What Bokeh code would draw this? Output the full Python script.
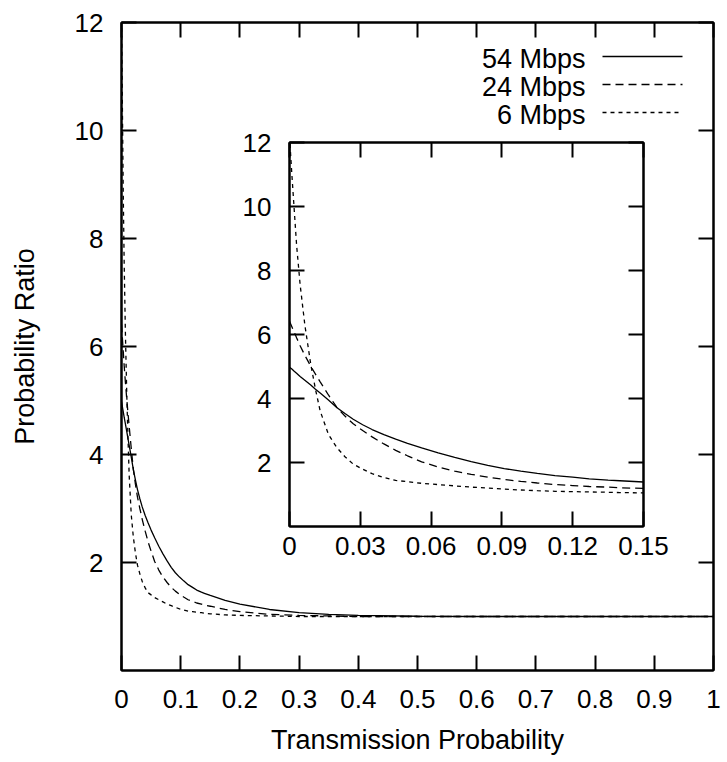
from bokeh.plotting import figure
from bokeh.models import (FixedTicker, LinearAxis, Range1d, Label, Arrow,
                          GridBox, CustomJSTickFormatter)
from bokeh.embed import file_html
from bokeh.resources import INLINE

# ---------------- data ----------------
transmission_probability = [0, 0.001, 0.002, 0.003, 0.0045, 0.0065, 0.009, 0.011,
                            0.013, 0.0165, 0.02, 0.0235, 0.027, 0.031, 0.035, 0.04,
                            0.045, 0.05, 0.056, 0.063, 0.07, 0.077, 0.084, 0.091,
                            0.098, 0.105, 0.1125, 0.12, 0.127, 0.135, 0.14, 0.15,
                            0.175, 0.2, 0.25, 0.3, 0.35, 0.4, 0.5, 0.6, 0.7, 0.8,
                            0.9, 1.0]
ratio_54mbps = [4.98, 4.92, 4.85, 4.79, 4.69, 4.57, 4.42, 4.29,
                4.17, 3.95, 3.72, 3.53, 3.35, 3.18, 3.03, 2.87,
                2.73, 2.60, 2.46, 2.30, 2.16, 2.03, 1.91, 1.81,
                1.73, 1.66, 1.59, 1.54, 1.49, 1.45, 1.43, 1.39,
                1.30, 1.23, 1.13, 1.07, 1.04, 1.02, 1.005, 1.0, 1.0, 1.0,
                1.0, 1.0]
ratio_24mbps = [6.41, 6.24, 6.07, 5.90, 5.65, 5.35, 5.01, 4.76,
                4.52, 4.11, 3.73, 3.45, 3.21, 3.00, 2.80, 2.58,
                2.38, 2.21, 2.02, 1.86, 1.73, 1.63, 1.54, 1.47,
                1.41, 1.36, 1.31, 1.28, 1.25, 1.23, 1.21, 1.19,
                1.13, 1.09, 1.04, 1.02, 1.01, 1.0, 1.0, 1.0, 1.0, 1.0,
                1.0, 1.0]
ratio_6mbps = [12.2, 11.0, 9.9, 8.8, 7.56, 6.3, 5.07, 4.29,
               3.61, 2.88, 2.47, 2.18, 1.95, 1.79, 1.65, 1.53,
               1.44, 1.40, 1.35, 1.31, 1.27, 1.23, 1.20, 1.17,
               1.14, 1.12, 1.10, 1.09, 1.08, 1.07, 1.06, 1.05,
               1.03, 1.02, 1.01, 1.0, 1.0, 1.0, 1.0, 1.0, 1.0, 1.0,
               1.0, 1.0]
series_labels = ["54 Mbps", "24 Mbps", "6 Mbps"]

main_x_ticks = [0, 0.1, 0.2, 0.3, 0.4, 0.5, 0.6, 0.7, 0.8, 0.9, 1]
main_y_ticks = [2, 4, 6, 8, 10, 12]
inset_x_ticks = [0, 0.03, 0.06, 0.09, 0.12, 0.15]
inset_y_ticks = [2, 4, 6, 8, 10, 12]

x_title = "Transmission Probability"
y_title = "Probability Ratio"

# ---------------- styling ----------------
FONT = "Liberation Sans"
TICK_FS = "26px"
TITLE_FS = "27px"
DASHES = ["solid", "8 5", "4 4"]
LW = 1.3


def style_axis(ax, ticks, show_labels, standoff=10):
    ax.ticker = FixedTicker(ticks=ticks)
    ax.major_tick_in = 15
    ax.major_tick_out = 0
    ax.minor_tick_in = 0
    ax.minor_tick_out = 0
    ax.minor_tick_line_color = None
    ax.axis_line_color = "black"
    ax.axis_line_width = 2
    ax.major_tick_line_color = "black"
    ax.major_tick_line_width = 2
    ax.major_label_text_font = FONT
    if show_labels:
        ax.formatter = CustomJSTickFormatter(code="return String(tick);")
        ax.major_label_text_color = "black"
        ax.major_label_text_font_size = TICK_FS
        ax.major_label_standoff = standoff
    else:
        # mirrored axis: ticks only, no labels drawn
        ax.major_label_text_color = None
        ax.major_label_text_font_size = "0px"
        ax.major_label_standoff = 0


def make_panel(width, height, xr, yr, xticks, yticks, borders, xstand, ystand):
    f = figure(width=width, height=height, x_range=xr, y_range=yr,
               output_backend="svg", toolbar_location=None,
               min_border_left=borders[0], min_border_right=borders[1],
               min_border_top=borders[2], min_border_bottom=borders[3])
    f.grid.visible = False
    f.outline_line_color = "black"
    f.outline_line_width = 2
    f.background_fill_color = "white"
    f.border_fill_color = None
    xb = f.xaxis[0]
    yl = f.yaxis[0]
    style_axis(xb, xticks, True, xstand)
    style_axis(yl, yticks, True, ystand)
    top = LinearAxis()
    style_axis(top, xticks, False)
    right = LinearAxis()
    style_axis(right, yticks, False)
    f.add_layout(top, "above")
    f.add_layout(right, "right")
    for ys, dash in zip([ratio_54mbps, ratio_24mbps, ratio_6mbps], DASHES):
        f.line(transmission_probability, ys, line_color="black",
               line_width=LW, line_dash=dash)
    return f, xb, yl


# ---------------- main plot ----------------
p, p_xaxis, p_yaxis = make_panel(727, 762, Range1d(0, 1), Range1d(0, 12),
                                 main_x_ticks, main_y_ticks,
                                 (121, 14, 22, 92), 19, 18)
p.border_fill_color = "white"
p_xaxis.axis_label = x_title
p_yaxis.axis_label = y_title
for ax, stand in ((p_xaxis, 14), (p_yaxis, 32)):
    ax.axis_label_text_font = FONT
    ax.axis_label_text_font_size = TITLE_FS
    ax.axis_label_text_font_style = "normal"
    ax.axis_label_text_color = "black"
    ax.axis_label_standoff = stand

# legend: text on the left (right aligned), line sample on the right
for i, (lab, dash) in enumerate(zip(series_labels, DASHES)):
    sy = 614 - 28 * i
    p.add_layout(Label(x=464, y=sy - 2, x_units="screen", y_units="screen",
                       text=lab, text_align="right", text_baseline="middle",
                       text_font=FONT, text_font_size=TITLE_FS, text_color="black"))
    p.add_layout(Arrow(start=None, end=None, x_start=481, y_start=sy,
                       x_end=561, y_end=sy, start_units="screen", end_units="screen",
                       line_color="black", line_width=LW, line_dash=dash))

# ---------------- inset ----------------
q, _, _ = make_panel(444, 454, Range1d(0, 0.15), Range1d(0, 12),
                     inset_x_ticks, inset_y_ticks, (60, 30, 20, 50), 10, 18)

layout = GridBox(children=[(p, 0, 0, 3, 3), (q, 1, 1, 1, 1)],
                 rows=["122px", "454px", "186px"], cols=["229px", "444px", "54px"],
                 spacing=0)

open("out.html", "w").write(file_html(layout, INLINE))
